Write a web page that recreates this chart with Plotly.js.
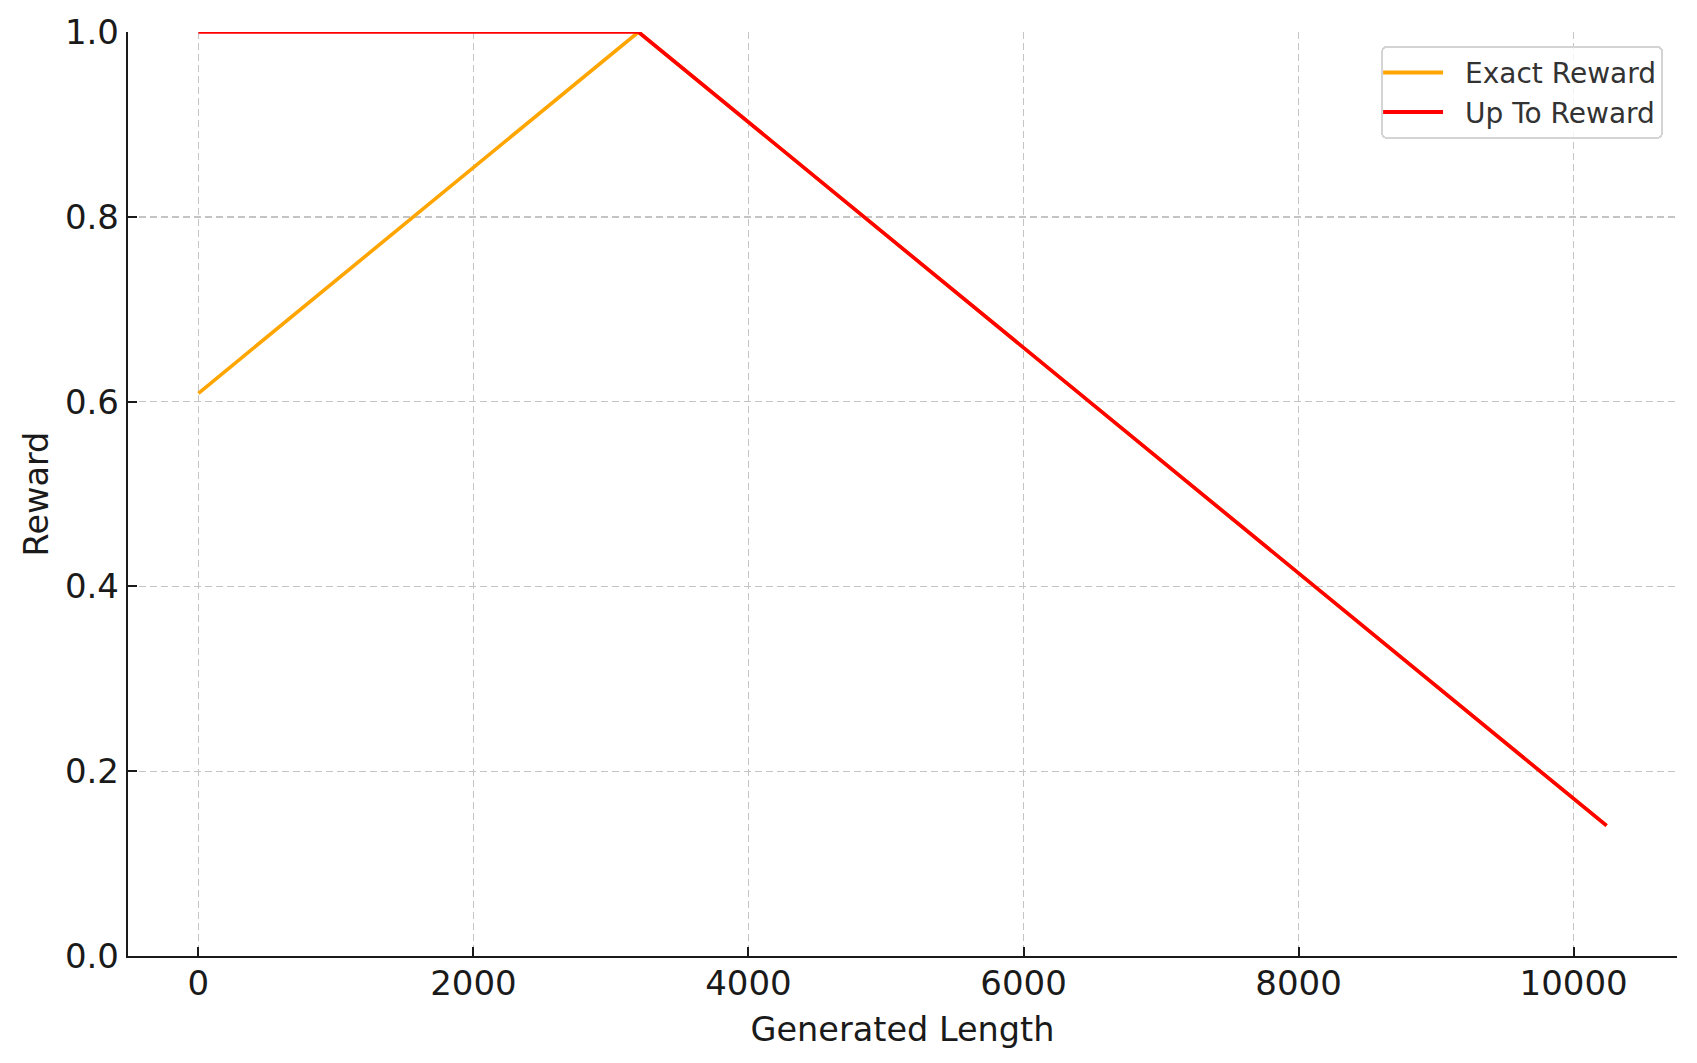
<!DOCTYPE html>
<html>
<head>
<meta charset="utf-8">
<script src="https://cdn.plot.ly/plotly-3.0.1.min.js"></script>
<style>
  html, body { margin: 0; padding: 0; background: #fff; }
  #chart { width: 1697px; height: 1063px; }
</style>
</head>
<body>
<div id="chart"></div>
<script>
// generated length (tokens) at the breakpoints of both curves
var lengths = [0, 3200, 10240];
var exactReward = [0.609, 1.0, 0.141];
var upToReward = [1.0, 1.0, 0.141];

var xTicks = [0, 2000, 4000, 6000, 8000, 10000];
var yTicks = [0.0, 0.2, 0.4, 0.6, 0.8, 1.0];

var trace1 = {
    x: lengths,
    y: exactReward,
    name: 'Exact Reward',
    mode: 'lines',
    type: 'scatter',
    line: { color: '#FFA500', width: 3.6 },
    hoverinfo: 'none'
};

var trace2 = {
    x: lengths,
    y: upToReward,
    name: 'Up To Reward',
    mode: 'lines',
    type: 'scatter',
    line: { color: '#FF0000', width: 3.6 },
    hoverinfo: 'none'
};

var data = [trace1, trace2];

var layout = {
    width: 1697,
    height: 1063,
    paper_bgcolor: '#ffffff',
    plot_bgcolor: '#ffffff',
    font: { family: 'DejaVu Sans', color: '#1a1a1a', size: 33 },
    margin: { l: 128, r: 20, t: 32, b: 107, pad: 0 },
    xaxis: {
        range: [-512, 10752],
        tickvals: xTicks,
        ticktext: xTicks.map(String),
        ticks: 'inside',
        ticklen: 9,
        tickwidth: 2,
        tickcolor: '#1a1a1a',
        tickfont: { size: 34 },
        showline: true,
        linecolor: '#1a1a1a',
        linewidth: 2.2,
        zeroline: false,
        showgrid: true,
        gridcolor: '#c4c4c4',
        gridwidth: 1.4,
        griddash: '7px,4px',
        fixedrange: true,
        title: { text: 'Generated Length', font: { size: 33.5 }, standoff: 12 }
    },
    yaxis: {
        range: [0, 1],
        tickvals: yTicks,
        ticktext: yTicks.map(function (v) { return v.toFixed(1); }),
        ticks: 'inside',
        ticklen: 9,
        tickwidth: 2,
        tickcolor: '#1a1a1a',
        tickfont: { size: 34 },
        showline: true,
        linecolor: '#1a1a1a',
        linewidth: 2.2,
        zeroline: false,
        showgrid: true,
        gridcolor: '#c4c4c4',
        gridwidth: 1.4,
        griddash: '7px,4px',
        fixedrange: true,
        title: { text: 'Reward', font: { size: 33.5 }, standoff: 6 }
    },
    legend: {
        x: 0.991,
        y: 0.985,
        xanchor: 'right',
        yanchor: 'top',
        bgcolor: 'rgba(255,255,255,0.8)',
        bordercolor: '#d4d4d4',
        borderwidth: 2,
        itemwidth: 72,
        font: { size: 28, color: '#333333' }
    },
    showlegend: true
};

Plotly.newPlot('chart', data, layout, { displayModeBar: false, staticPlot: true }).then(function (gd) {
    // longer legend line samples and rounded legend box, like the original
    gd.querySelectorAll('.legend .legendlines path').forEach(function (p) {
        p.setAttribute('d', 'M0,0h60');
        p.style.strokeWidth = '4px';
    });
    gd.querySelectorAll('.legend rect.bg').forEach(function (r) {
        r.setAttribute('rx', 5);
        r.setAttribute('ry', 5);
    });
    // x tick labels sit a little closer to the axis in the original
    gd.querySelectorAll('.xtick text').forEach(function (t) {
        t.setAttribute('transform', (t.getAttribute('transform') || '') + ' translate(0,-4)');
    });
});
</script>
</body>
</html>
